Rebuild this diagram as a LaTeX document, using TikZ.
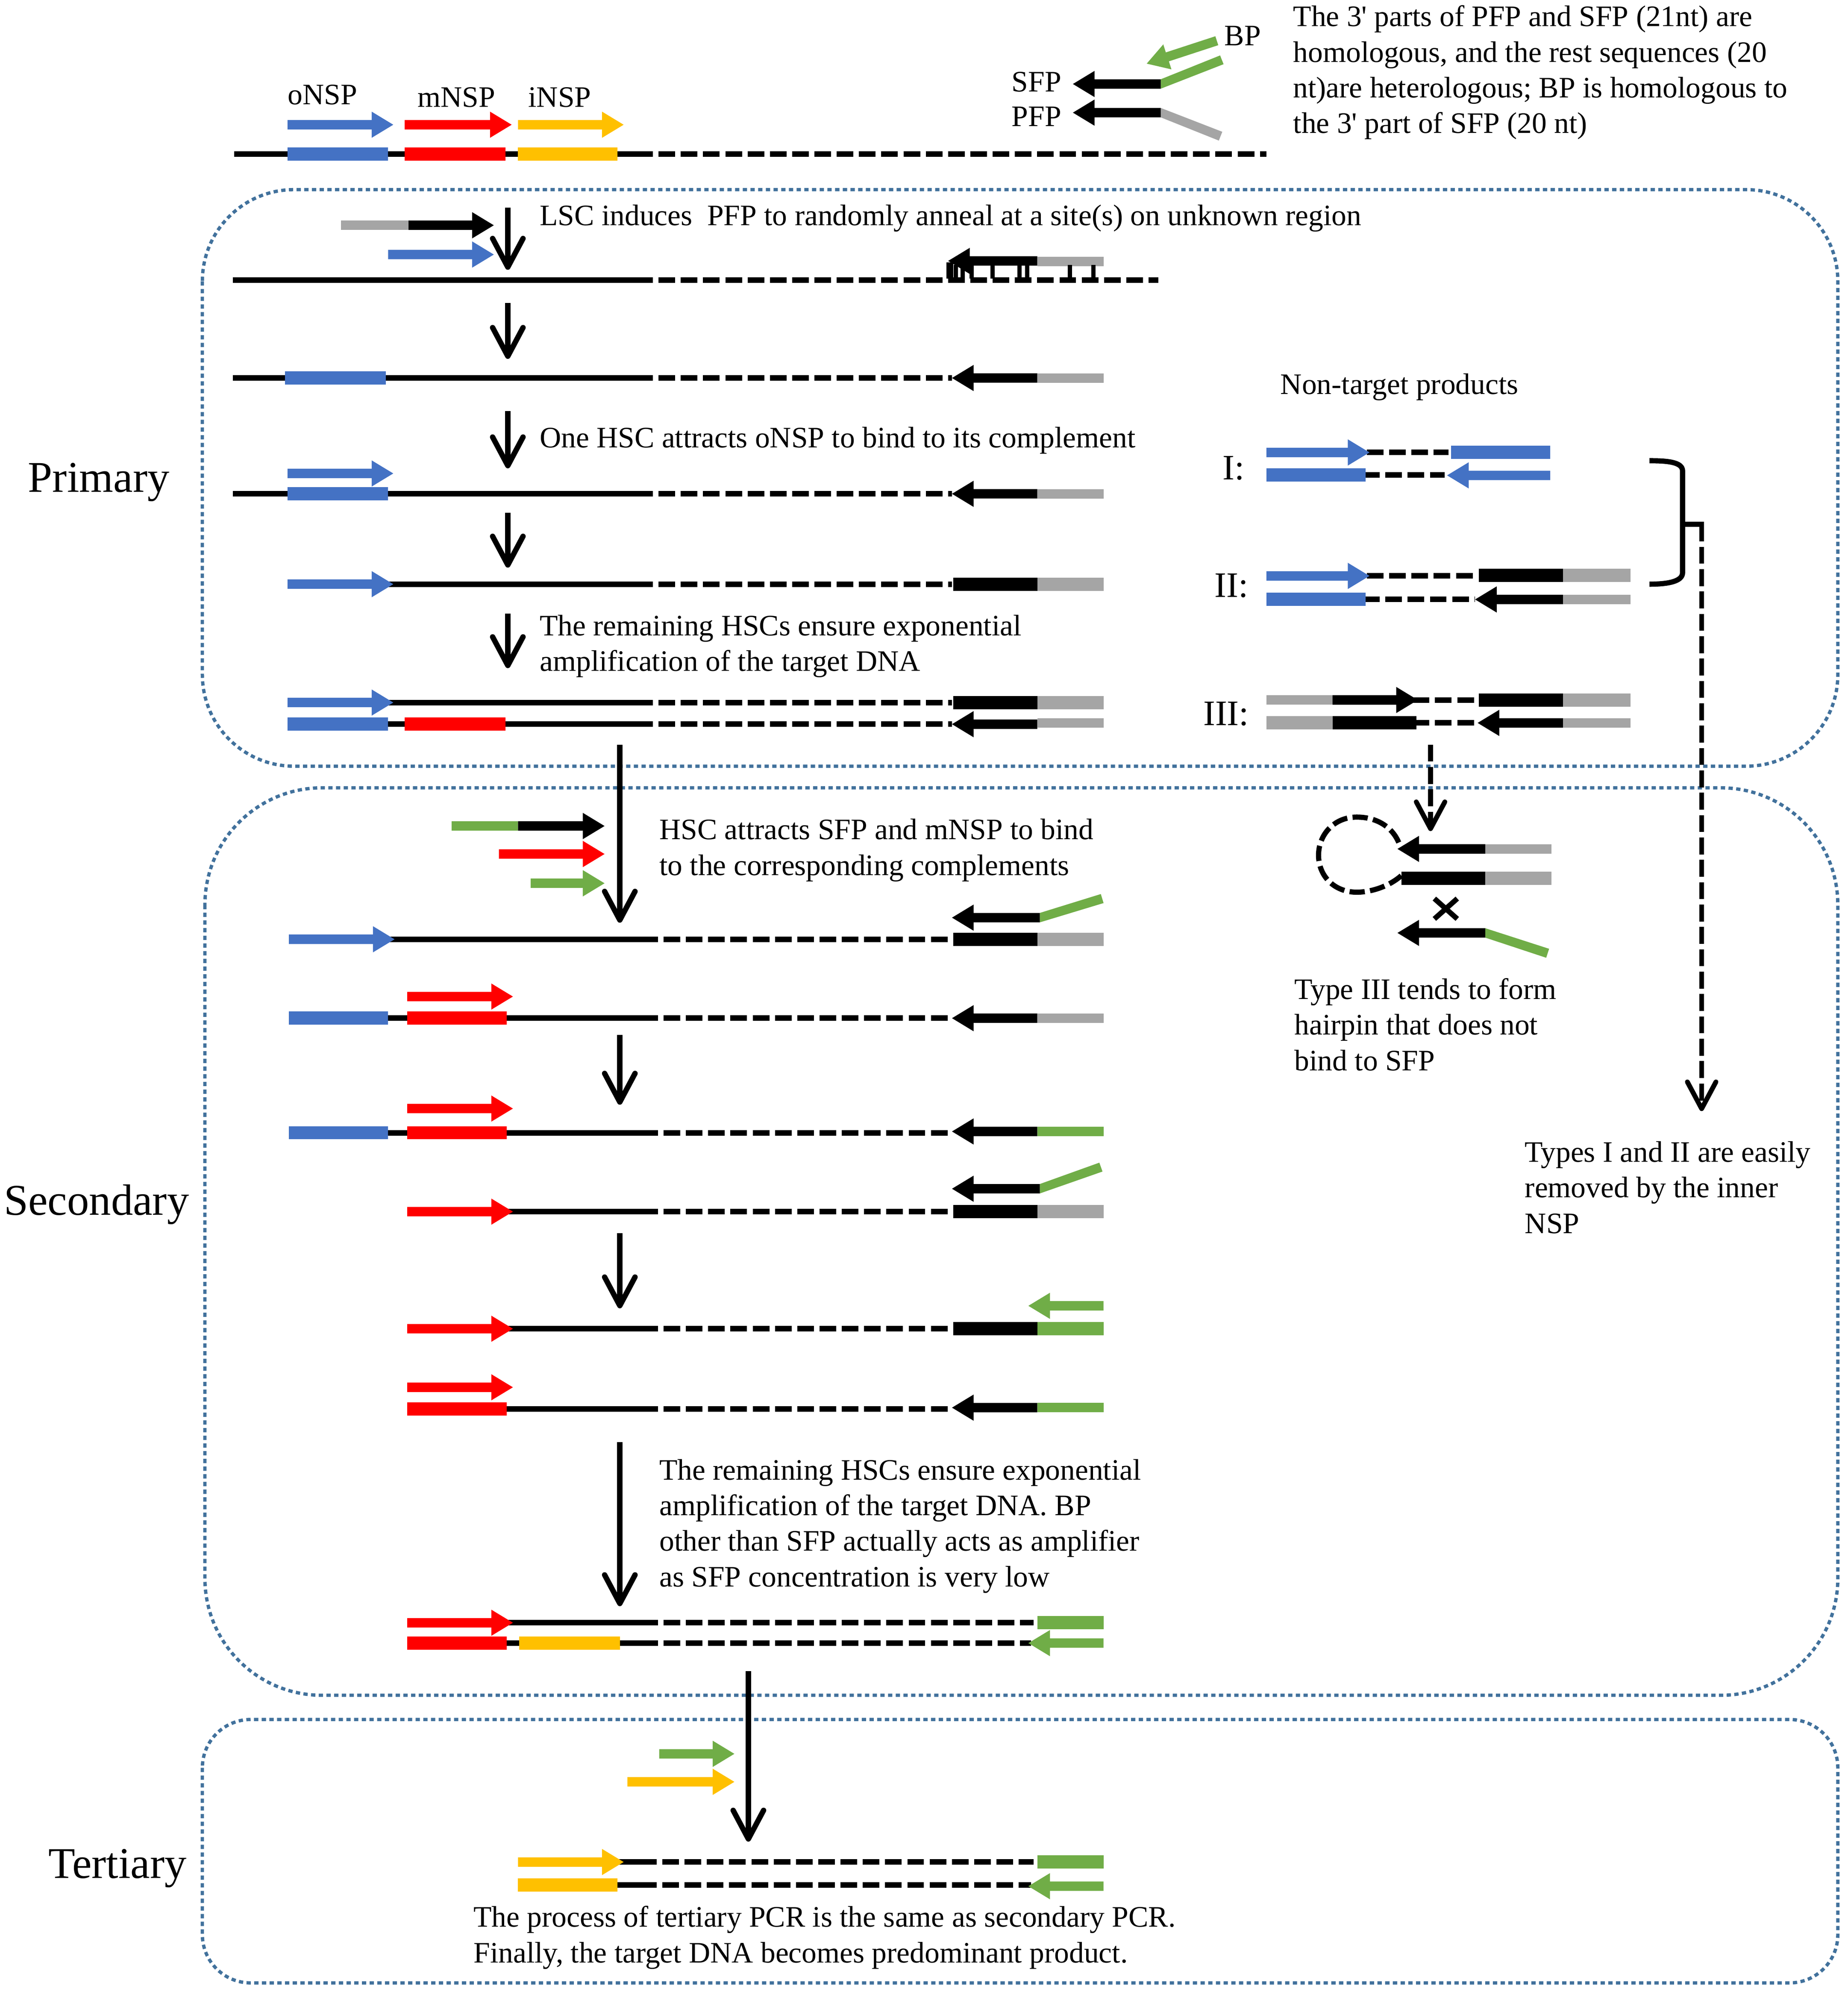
\documentclass[tikz,border=0pt]{standalone}
\usepackage{fontspec}
\setmainfont{Liberation Serif}
\usetikzlibrary{arrows.meta}
\usetikzlibrary{calc}

\definecolor{onsp}{HTML}{4472C4}
\definecolor{mnsp}{HTML}{FF0000}
\definecolor{insp}{HTML}{FFC000}
\definecolor{grn}{HTML}{70AD47}
\definecolor{gry}{HTML}{A5A5A5}
\definecolor{frame}{HTML}{41719C}

\tikzset{
  solidstrand/.style={line width=6.2pt},
  gapstrand/.style={line width=6.2pt, dash pattern=on 18.6pt off 6.3pt},
  stage/.style={draw=frame, line width=3.7pt, dash pattern=on 4.8pt off 3.8pt},
  flowarrow/.style={line width=6.2pt, -{Straight Barb[length=32pt,width=34pt,line width=6pt,round]}},
  hintarrow/.style={line width=5.4pt, dash pattern=on 19pt off 6pt, -{Straight Barb[length=30pt,width=32pt,line width=5.4pt,round]}},
  note/.style={anchor=west, align=left, inner sep=0pt, font=\fontsize{33.2}{39.8}\selectfont},
  biglabel/.style={anchor=west, inner sep=0pt, font=\fontsize{49}{55}\selectfont},
  midlabel/.style={anchor=west, inner sep=0pt, font=\fontsize{40}{46}\selectfont}
}

% thick bar, thin bar
\newcommand{\segbar}[4]{\fill[#1] (#2,#4-5.2) rectangle (#3,#4+5.2);}
\newcommand{\thinbar}[4]{\fill[#1] (#2,#4-3.7) rectangle (#3,#4+3.7);}
% block arrows: colour, tail, tip, y
\newcommand{\rarr}[4]{\fill[#1] (#2,#4-3.7) -- (#3-17,#4-3.7) -- (#3-17,#4-10.3) -- (#3,#4) -- (#3-17,#4+10.3) -- (#3-17,#4+3.7) -- (#2,#4+3.7) -- cycle;}
\newcommand{\larr}[4]{\fill[#1] (#2,#4-3.7) -- (#3+17,#4-3.7) -- (#3+17,#4-10.3) -- (#3,#4) -- (#3+17,#4+10.3) -- (#3+17,#4+3.7) -- (#2,#4+3.7) -- cycle;}
% tilted end of a primer
\newcommand{\armbar}[5]{\fill[#1] (#2,#3-3.7) -- ($(#4,#5)!0.185cm!-90:(#2,#3)$) -- ($(#4,#5)!0.185cm!90:(#2,#3)$) -- (#2,#3+3.7) -- cycle;}
% template: start of solid, end of solid, end of dashes, y
\newcommand{\template}[4]{
  \draw[solidstrand] (#1,#4) -- (#2,#4);
  \draw[gapstrand] (#2+4.4,#4) -- (#3,#4);
}
% name, x, top, tip
\newcommand{\flow}[4]{
  \coordinate (#1top) at (#2,#3);
  \coordinate (#1tip) at (#2,#4);
  \draw[flowarrow] (#1top) -- (#1tip);
}

\begin{document}
\begin{tikzpicture}[x=0.05cm,y=-0.05cm]
  \useasboundingbox (0,0) rectangle (1452,1567.5);

  % stages
  \draw[stage, rounded corners=3.6cm] (159,149) rectangle (1444,602);
  \draw[stage, rounded corners=4.6cm] (161,619) rectangle (1444,1332);
  \draw[stage, rounded corners=1.9cm] (159,1351) rectangle (1444,1558);
  \node[biglabel] (primary) at (22,379) {Primary};
  \node[biglabel] (secondary) at (3,946.5) {Secondary};
  \node[biglabel] (tertiary) at (38,1468) {Tertiary};

  % template and primers
  \node[note] (onsplabel) at (226,74.5) {oNSP};
  \node[note] (mnsplabel) at (328,76.5) {mNSP};
  \node[note] (insplabel) at (415,76.5) {iNSP};
  \rarr{onsp}{226}{309}{98}
  \rarr{mnsp}{318}{402}{98}
  \rarr{insp}{407}{490}{98}
  \template{184}{513}{995}{121}
  \segbar{onsp}{226}{305}{121}
  \segbar{mnsp}{318}{397}{121}
  \segbar{insp}{407}{485}{121}
  \node[note, anchor=east] (sfplabel) at (834,64.5) {SFP};
  \node[note, anchor=east] (pfplabel) at (834,91.5) {PFP};
  \node[note] (bplabel) at (962,28) {BP};
  \fill[grn] (957.2,35.5) -- (918.4,48.2) -- (920.4,54.5) -- (901,50) -- (914,34.9) -- (916,41.2) -- (954.9,28.5) -- cycle;
  \armbar{grn}{912}{66}{960}{47}
  \armbar{gry}{912}{88.5}{959}{107}
  \larr{black}{912}{843}{66}
  \larr{black}{912}{843}{88.5}
  \node[note] (topnote) at (1016,57) {The 3\textquotesingle{} parts of PFP and SFP (21nt) are\\homologous, and the rest sequences (20\\nt)are heterologous; BP is homologous to\\the 3\textquotesingle{} part of SFP (20 nt)};

  % primary
  \thinbar{gry}{268}{321}{177}
  \rarr{black}{321}{388}{177}
  \rarr{onsp}{305}{388}{200}
  \flow{a}{399}{163}{212}
  \node[note] (lsc) at (424,171.5) {LSC induces\ \ PFP to randomly anneal at a site(s) on unknown region};
  \template{183}{513}{910}{220}
  \thinbar{gry}{815}{867}{205.5}
  \larr{black}{815}{745}{205}
  \fill (743.5,206) rectangle (749,219);
  \foreach \tx in {751,756.5,763.5,780,801,807,840.5,859}
    \fill (\tx-1.7,208) rectangle (\tx+1.7,219);

  \flow{b}{399}{238}{282}
  \template{183}{513}{748}{297}
  \segbar{onsp}{224}{303}{297}
  \thinbar{gry}{815}{867}{297}
  \larr{black}{815}{748}{297}

  \flow{c}{399}{323}{368}
  \node[note] (hsconsp) at (424,346) {One HSC attracts oNSP to bind to its complement};
  \rarr{onsp}{226}{309}{372}
  \template{183}{513}{748}{388}
  \segbar{onsp}{226}{305}{388}
  \thinbar{gry}{815}{867}{388}
  \larr{black}{815}{748}{388}

  \flow{d}{399}{403}{446}
  \template{305}{513}{748}{459}
  \rarr{onsp}{226}{309}{459}
  \segbar{black}{749}{815}{459}
  \segbar{gry}{815}{867}{459}

  \flow{e}{399}{482}{525}
  \node[note] (remaining) at (424,507.7) {The remaining HSCs ensure exponential\\amplification of the target DNA};
  \template{305}{513}{748}{552}
  \rarr{onsp}{226}{309}{552}
  \segbar{black}{749}{815}{552}
  \segbar{gry}{815}{867}{552}
  \template{305}{513}{748}{569}
  \segbar{onsp}{226}{305}{569}
  \segbar{mnsp}{318}{397}{569}
  \thinbar{gry}{815}{867}{568}
  \larr{black}{815}{748}{569}

  % non-target products
  \node[note] (nontarget) at (1006,304) {Non-target products};
  \node[midlabel, anchor=east] (typeone) at (978,368) {I:};
  \node[midlabel, anchor=east] (typetwo) at (981,460) {II:};
  \node[midlabel, anchor=east] (typethree) at (981.5,561) {III:};

  \draw[gapstrand] (1074,355.5) -- (1138,355.5);
  \draw[gapstrand] (1071,373) -- (1135,373);
  \rarr{onsp}{995}{1076}{355.5}
  \segbar{onsp}{1140}{1218}{355.5}
  \segbar{onsp}{995}{1073}{373}
  \larr{onsp}{1218}{1137}{373.5}

  \draw[gapstrand] (1074,452.5) -- (1161,452.5);
  \draw[gapstrand] (1071,471) -- (1159,471);
  \rarr{onsp}{995}{1076}{452.5}
  \segbar{black}{1162}{1228}{452}
  \segbar{gry}{1228}{1281}{452}
  \segbar{onsp}{995}{1073}{471}
  \larr{black}{1228}{1159}{471}
  \thinbar{gry}{1228}{1281}{471}

  \draw[gapstrand] (1110,550) -- (1161,550);
  \draw[gapstrand] (1110,568) -- (1161,568);
  \thinbar{gry}{995}{1047}{550}
  \rarr{black}{1047}{1114}{550}
  \segbar{gry}{995}{1047}{568}
  \segbar{black}{1047}{1113}{568}
  \segbar{black}{1162}{1228}{550}
  \segbar{gry}{1228}{1281}{550}
  \larr{black}{1228}{1161}{568}
  \thinbar{gry}{1228}{1281}{568}

  % bracket
  \coordinate (brackettop) at (1296,362);
  \coordinate (bracketbot) at (1296,459);
  \coordinate (bracketmid) at (1322,412);
  \coordinate (removedtip) at (1337,873);
  \draw[line width=5.8pt] (brackettop) .. controls (1310,362) and (1322,363) .. (1322,370) -- (1322,450) .. controls (1322,457) and (1310,459) .. (bracketbot);
  \draw[line width=5.8pt] (bracketmid) -- (1339,412);
  \draw[hintarrow] (1337,412) -- (removedtip);
  \node[note] (removed) at (1198,933) {Types I and II are easily\\removed by the inner\\NSP};

  % hairpin
  \coordinate (hairpintop) at (1124,585);
  \coordinate (hairpintip) at (1124,653);
  \draw[hintarrow] (hairpintop) -- (hairpintip);
  \draw[line width=5.8pt, dash pattern=on 17pt off 6pt] (1099,662) .. controls (1094,650) and (1082,642) .. (1066,642) .. controls (1048,642) and (1036,656) .. (1036,672) .. controls (1036,688) and (1048,701) .. (1066,701) .. controls (1078,701) and (1092,696) .. (1101,688);
  \thinbar{gry}{1167}{1219}{667}
  \larr{black}{1167}{1098}{667}
  \segbar{black}{1101}{1167}{690}
  \segbar{gry}{1167}{1219}{690}
  \draw[line width=5.8pt] (1127,706) -- (1145,722) (1145,706) -- (1127,722);
  \armbar{grn}{1167}{733}{1216}{749}
  \larr{black}{1167}{1098}{733}
  \node[note] (hairpin) at (1017,805) {Type III tends to form\\hairpin that does not\\bind to SFP};

  % secondary
  \flow{f}{487}{585}{725}
  \thinbar{grn}{355}{407}{649}
  \rarr{black}{407}{475}{649}
  \rarr{mnsp}{392}{475}{671}
  \rarr{grn}{417}{475}{694}
  \node[note] (hscsfp) at (518,668) {HSC attracts SFP and mNSP to bind\\to the corresponding complements};

  \armbar{grn}{817}{721}{866}{706}
  \larr{black}{817}{748}{721}
  \template{305}{517}{748}{738}
  \rarr{onsp}{227}{310}{738}
  \segbar{black}{749}{815}{738}
  \segbar{gry}{815}{867}{738}

  \rarr{mnsp}{320}{403}{783}
  \template{305}{517}{748}{800}
  \segbar{onsp}{227}{305}{800}
  \segbar{mnsp}{320}{398}{800}
  \thinbar{gry}{815}{867}{800}
  \larr{black}{815}{748}{800}

  \flow{g}{487}{813}{868}
  \rarr{mnsp}{320}{403}{871}
  \template{305}{517}{748}{890}
  \segbar{onsp}{227}{305}{890}
  \segbar{mnsp}{320}{398}{890}
  \thinbar{grn}{815}{867}{889}
  \larr{black}{815}{748}{889}

  \armbar{grn}{817}{934}{865}{917}
  \larr{black}{817}{748}{934}
  \template{398}{517}{748}{952}
  \rarr{mnsp}{320}{403}{952}
  \segbar{black}{749}{815}{952}
  \segbar{gry}{815}{867}{952}

  \flow{h}{487}{969}{1028}
  \larr{grn}{867}{808}{1026}
  \template{398}{517}{748}{1044}
  \rarr{mnsp}{320}{403}{1044}
  \segbar{black}{749}{815}{1044}
  \segbar{grn}{815}{867}{1044}

  \rarr{mnsp}{320}{403}{1090}
  \template{398}{517}{748}{1107}
  \segbar{mnsp}{320}{398}{1107}
  \thinbar{grn}{815}{867}{1106}
  \larr{black}{815}{748}{1106}

  \flow{i}{487}{1133}{1262}
  \node[note] (amplifier) at (518,1199) {The remaining HSCs ensure exponential\\amplification of the target DNA. BP\\other than SFP actually acts as amplifier\\as SFP concentration is very low};

  \template{398}{517}{812}{1275}
  \rarr{mnsp}{320}{403}{1275}
  \segbar{grn}{815}{867}{1275}
  \template{398}{517}{810}{1291}
  \segbar{mnsp}{320}{398}{1291}
  \segbar{insp}{408}{487}{1291}
  \larr{grn}{867}{808}{1291}

  % tertiary
  \flow{j}{588}{1313}{1447}
  \rarr{grn}{518}{577}{1378}
  \rarr{insp}{493}{577}{1400}
  \template{485}{516}{812}{1463}
  \rarr{insp}{407}{490}{1463}
  \segbar{grn}{815}{867}{1463}
  \template{485}{516}{810}{1481}
  \segbar{insp}{407}{485}{1481}
  \larr{grn}{867}{808}{1482}
  \node[note] (process) at (372,1522.3) {The process of tertiary PCR is the same as secondary PCR.\\Finally, the target DNA becomes predominant product.};
\end{tikzpicture}
\end{document}
